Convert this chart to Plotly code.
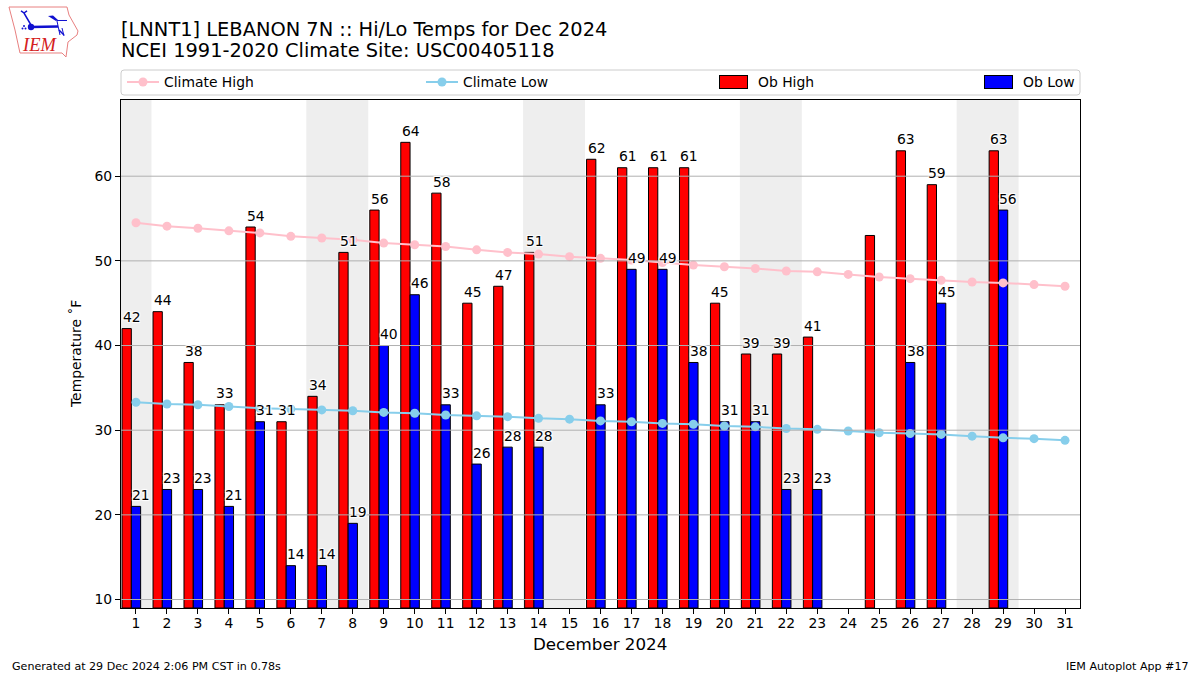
import plotly.graph_objects as go

days = list(range(1, 32))
ob_high = [42,44,38,33,54,31,34,51,56,64,58,45,47,51,None,62,61,61,61,45,39,39,41,None,53,63,59,None,63,None,None]
ob_low = [21,23,23,21,31,14,14,19,40,46,33,26,28,28,None,33,49,49,38,31,31,23,23,None,None,38,45,None,56,None,None]
high_labels = [42,44,38,33,54,31,34,51,56,64,58,45,47,51,None,62,61,61,61,45,39,39,41,None,None,63,59,None,63,None,None]
clim_high = [54.5,54.1,53.85,53.55,53.3,52.9,52.7,52.5,52.1,51.9,51.7,51.3,51.0,50.8,50.5,50.3,50.1,49.8,49.5,49.3,49.1,48.8,48.7,48.4,48.1,47.9,47.7,47.5,47.4,47.2,47.0]
clim_low = [33.3,33.1,33.0,32.8,32.6,32.5,32.4,32.3,32.1,32.0,31.8,31.7,31.6,31.4,31.3,31.1,31.0,30.8,30.7,30.5,30.4,30.2,30.1,29.9,29.7,29.6,29.5,29.3,29.1,29.0,28.8]
weekend_spans = [(0.5,1.5),(6.5,8.5),(13.5,15.5),(20.5,22.5),(27.5,29.5)]
y_ticks = [10,20,30,40,50,60]

W, H = 1200, 675
FONT = "DejaVu Sans"
BW = 0.3

fig = go.Figure()
fig.add_bar(x=[d-BW for d in days], y=[None if v is None else v-9 for v in ob_high], base=9, width=BW,
            marker=dict(color="#ff0000", line=dict(color="black", width=1)), name="Ob High", legend="legend3")
fig.add_bar(x=days, y=[None if v is None else v-9 for v in ob_low], base=9, width=BW,
            marker=dict(color="#0000ff", line=dict(color="black", width=1)), name="Ob Low", legend="legend4")
fig.add_scatter(x=days, y=clim_high, mode="lines+markers", name="Climate High", legend="legend",
                line=dict(color="#ffc0cb", width=2), marker=dict(color="#ffc0cb", size=9))
fig.add_scatter(x=days, y=clim_low, mode="lines+markers", name="Climate Low", legend="legend2",
                line=dict(color="#87ceeb", width=2), marker=dict(color="#87ceeb", size=9))

shapes = []
for a, b in weekend_spans:
    shapes.append(dict(type="rect", xref="x", yref="paper", x0=a, x1=b, y0=0, y1=1,
                       fillcolor="#eeeeee", line_width=0, layer="below"))
for t in y_ticks:
    shapes.append(dict(type="line", xref="paper", yref="y", x0=0, x1=1, y0=t, y1=t,
                       line=dict(color="#b0b0b0", width=1), layer="above"))

# legend frame
l, r, t, b, c = 121, 1080, 70, 95, 3
shapes.append(dict(type="path", xref="paper", yref="paper", layer="above",
    path=("M {0},{1} L {2},{1} Q {3},{1} {3},{4} L {3},{5} Q {3},{6} {2},{6} L {0},{6} Q {7},{6} {7},{5} L {7},{4} Q {7},{1} {0},{1} Z").format(
        (l+c-121)/959, (608-t)/508, (r-c-121)/959, (r-121)/959, (608-t-c)/508, (608-b+c)/508, (608-b)/508, (l-121)/959),
    line=dict(color="#cccccc", width=1)))

# logo, in pixel coordinates of the page
def P(x, y): return f"{(x-121)/959:.5f},{(608-y)/508:.5f}"
outline = [(9,7),(67,7),(69,15),(78,31),(77,35),(68,42),(66,57),(62,53),(20,53),(15,30)]
shapes.append(dict(type="path", xref="paper", yref="paper", layer="above",
    path="M " + " L ".join(P(*q) for q in outline) + " Z", line=dict(color="#e88080", width=1)))
for seg, w in [([(31,27),(58,26.5)],2.5),([(57,20.5),(67,20.5)],1),([(57,21),(60,35)],1),([(31,25),(24,13),(21,11)],1.5),
               ([(24,13),(27,11)],1.5),([(59,30),(64,35)],1.5),([(62,28),(64,36)],1)]:
    shapes.append(dict(type="path", xref="paper", yref="paper", layer="above",
        path="M " + " L ".join(P(*q) for q in seg), line=dict(color="#1010d0", width=w)))
shapes.append(dict(type="path", xref="paper", yref="paper", layer="above", fillcolor="#1010d0", line_width=0,
    path="M " + " L ".join(P(*q) for q in [(48,16),(53,15.5),(58,20),(56,21)]) + " Z"))
for (cx, cy, rr) in [(31,27,3.2),(24,26,1),(22.5,28.5,1),(25.5,28.5,1)]:
    shapes.append(dict(type="circle", xref="paper", yref="paper", layer="above",
        x0=(cx-rr-121)/959, x1=(cx+rr-121)/959, y0=(608-cy-rr)/508, y1=(608-cy+rr)/508, fillcolor="#1010d0", line_width=0))

ann = []
halo = "-1px -1px 1px #fff, 1px -1px 1px #fff, -1px 1px 1px #fff, 1px 1px 1px #fff"
for d, v in zip(days, high_labels):
    if v is not None:
        ann.append(dict(x=d-1.5*BW, y=v+1, text=str(v), xref="x", yref="y", showarrow=False, xanchor="left", yanchor="bottom",
                        font=dict(family=FONT, size=13.9, color="black", shadow=halo), borderpad=0, yshift=-6))
for d, v in zip(days, ob_low):
    if v is not None:
        ann.append(dict(x=d-0.5*BW, y=v+1, text=str(v), xref="x", yref="y", showarrow=False, xanchor="left", yanchor="bottom",
                        font=dict(family=FONT, size=13.9, color="black", shadow=halo), borderpad=0, yshift=-6))

def note(x, y, s, size, xa="left", color="black", family=FONT, **kw):
    ann.append(dict(x=(x-121)/959, y=(608-y)/508, xref="paper", yref="paper", text=s, showarrow=False, xanchor=xa, yanchor="middle",
                    font=dict(family=family, size=size, color=color), borderpad=0, **kw))

note(119.5, 29, "[LNNT1] LEBANON 7N :: Hi/Lo Temps for Dec 2024", 19.4)
note(119.5, 51, "NCEI 1991-2020 Climate Site: USC00405118", 19.4)
note(10.5, 666, "Generated at 29 Dec 2024 2:06 PM CST in 0.78s", 11.1)
note(1190, 666, "IEM Autoplot App #17", 11.1, xa="right")
note(20.5, 45, "<i>IEM</i>", 18.5, color="#d42020", family="Liberation Serif")
note(600, 644, "December 2024", 16.7, xa="center")
note(76, 354, "Temperature ˚F", 13.9, xa="center", textangle=-90)
# wide legend swatches
for cx, col in [(733, "#ff0000"), (998, "#0000ff")]:
    note(cx, 82, " ", 8, xa="center", width=27, height=12, bgcolor=col, bordercolor="black", borderwidth=1)

def leg(x):
    return dict(x=x/W, y=1-82.5/H, xref="container", yref="container", xanchor="left", yanchor="middle",
                bgcolor="rgba(0,0,0,0)", borderwidth=0, font=dict(family=FONT, size=13.9, color="black"), itemwidth=32)

fig.update_layout(
    width=W, height=H, autosize=False, paper_bgcolor="white", plot_bgcolor="white",
    margin=dict(l=121, r=120, t=100, b=67, pad=0, autoexpand=False), barmode="overlay", showlegend=True,
    font=dict(family=FONT, size=13.9, color="black"),
    shapes=shapes, annotations=ann,
    legend=leg(122), legend2=leg(421), legend3=leg(716), legend4=leg(981),
    xaxis=dict(range=[0.516, 31.484], tickmode="array", tickvals=days, ticktext=[str(d) for d in days], ticks="outside", ticklen=5, tickcolor="black",
               ticklabelstandoff=-3,
               showgrid=False, showline=True, mirror=True, linecolor="black", linewidth=1, zeroline=False),
    yaxis=dict(range=[9, 69], tickmode="array", tickvals=y_ticks, ticks="outside", ticklen=5, tickcolor="black",
               showgrid=False, showline=True, mirror=True, linecolor="black", linewidth=1, zeroline=False),
)
fig.write_html("out.html", config=dict(displayModeBar=False), post_script="document.body.style.margin='0';")
